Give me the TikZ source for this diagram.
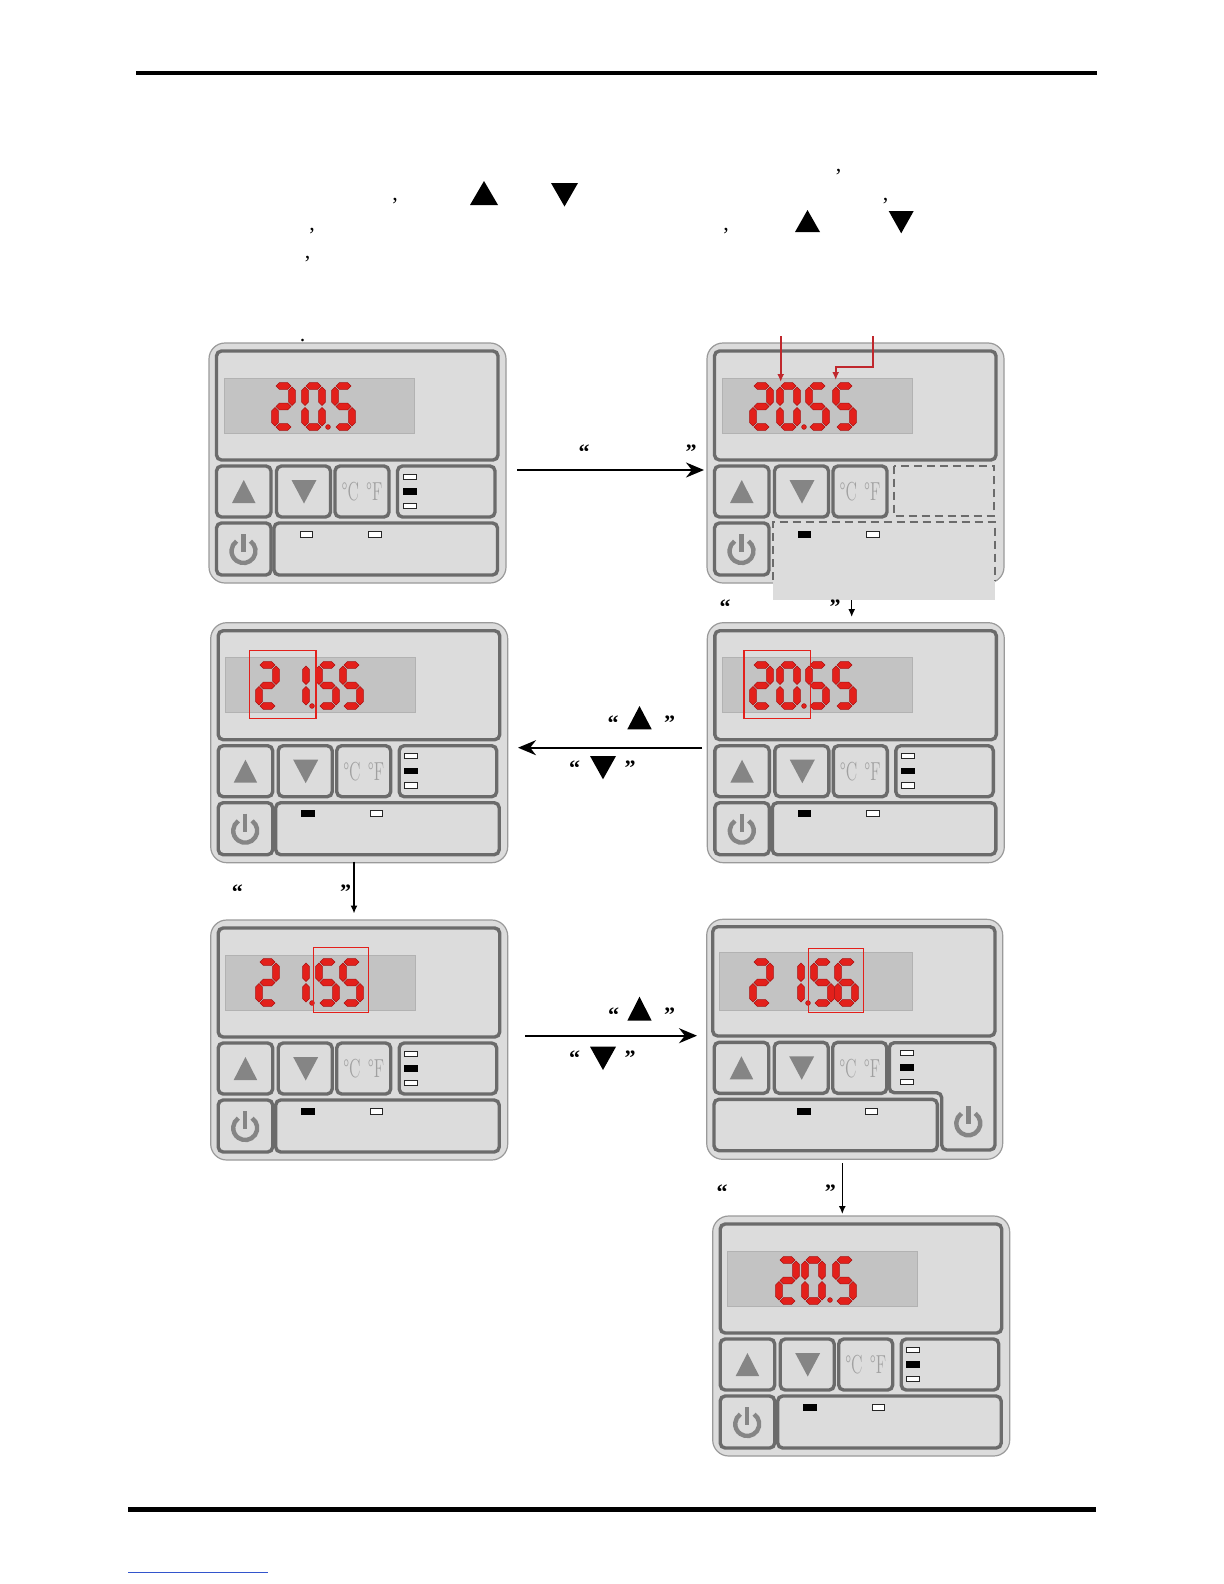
\documentclass[tikz,border=0pt]{standalone}
\usepackage{fontspec}
\usepackage{graphicx}
\newfontfamily\qfont{Liberation Serif}
\usetikzlibrary{arrows.meta}
\definecolor{panelbg}{HTML}{DCDCDC}
\definecolor{outerline}{HTML}{9A9A9A}
\definecolor{framecol}{HTML}{6B6B6B}
\definecolor{lcdbg}{HTML}{C3C3C3}
\definecolor{lcdline}{HTML}{B2B2B2}
\definecolor{iconcol}{HTML}{858585}
\definecolor{segred}{HTML}{E3201B}
\definecolor{segdark}{HTML}{A81010}
\definecolor{arrowred}{HTML}{C0282D}
\definecolor{cfgray}{HTML}{A0A0A0}
\definecolor{linkblue}{HTML}{3355CC}
\tikzset{
  outerbox/.style={draw=outerline, fill=panelbg, line width=0.6pt, rounded corners=8pt},
  frame/.style={draw=framecol, fill=panelbg, line width=1.7pt, rounded corners=2.5pt},
  lcd/.style={draw=lcdline, fill=lcdbg, line width=0.4pt},
  icon/.style={fill=iconcol},
  pwr/.style={draw=iconcol, line width=2.2pt},
  seg/.style={fill=segred, draw=segdark, line width=0.25pt},
  ledw/.style={draw=black!85, fill=white, line width=0.4pt},
  ledb/.style={draw=black, fill=black, line width=0.4pt},
  redbox/.style={draw=segred, line width=0.6pt},
  dashframe/.style={draw=framecol, line width=1pt, dash pattern=on 4pt off 2.5pt},
  bigarrow/.style={-{Stealth[length=9pt,width=7.5pt]}, line width=0.9pt},
  smallarrow/.style={-{Latex[length=4pt,width=3.5pt]}, line width=0.7pt},
  redarrow/.style={-{Latex[length=4pt,width=3.5pt]}, line width=0.8pt, draw=arrowred},
  quote/.style={font=\qfont\bfseries\fontsize{11}{11}\selectfont, inner sep=0pt, anchor=base},
  punct/.style={font=\qfont\fontsize{11}{11}\selectfont, inner sep=0pt, anchor=base},
  cf/.style={text=cfgray, inner sep=0pt, font=\fontsize{13}{13}\selectfont},
}
% seven segment pieces (local units: px, y downwards)
\newcommand\hseg[3]{\filldraw[seg] ({#1},{#3}) -- ({#1+3.3},{#3-3.3}) -- ({#2-3.3},{#3-3.3}) -- ({#2},{#3}) -- ({#2-3.3},{#3+3.3}) -- ({#1+3.3},{#3+3.3}) -- cycle;}
\newcommand\vseg[3]{\filldraw[seg] ({#1},{#2}) -- ({#1+3.3},{#2+3.3}) -- ({#1+3.3},{#3-3.3}) -- ({#1},{#3}) -- ({#1-3.3},{#3-3.3}) -- ({#1-3.3},{#2+3.3}) -- cycle;}
\newcommand\segA{\hseg{1}{16}{0}}
\newcommand\segB{\vseg{17}{1}{19.5}}
\newcommand\segC{\vseg{17}{21.5}{40}}
\newcommand\segD{\hseg{1}{16}{41}}
\newcommand\segE{\vseg{0}{21.5}{40}}
\newcommand\segF{\vseg{0}{1}{19.5}}
\newcommand\segG{\hseg{1}{16}{20.5}}
\newcommand\digit[3]{\begin{scope}[shift={({#2+3},{#3+3})}]%
\ifcase#1\relax \segA\segB\segC\segD\segE\segF
\or \segB\segC
\or \segA\segB\segG\segE\segD
\or \or \or \segA\segF\segG\segC\segD
\or \segA\segF\segG\segE\segC\segD
\fi\end{scope}}
\newcommand\segdot[2]{\filldraw[seg] (#1,#2) circle (2.4);}
% panel pieces (relative coordinates)
\newcommand\pwricon[2]{\draw[pwr] ({#1+12*cos(-55)},{#2+12*sin(-55)}) arc[start angle=-55,end angle=235,radius=12];
  \draw[pwr] (#1,{#2-17}) -- (#1,{#2+1});}
\newcommand\upbtn{\draw[frame] (7.5,123) rectangle (62,174);
  \fill[icon] (23,160) -- (46.5,160) -- (34.75,137) -- cycle;}
\newcommand\downbtn{\draw[frame] (67.5,123) rectangle (121.5,174);
  \fill[icon] (82.5,137) -- (107.5,137) -- (95,160.5) -- cycle;}
\newcommand\cfbtn{\draw[frame] (126,123) rectangle (180,174);
  \node[cf] at (153,149) {\scalebox{0.62}[1]{°C\hspace{0.45em}°F}};}
\newcommand\modeleds{\draw[ledw] (194,131) rectangle (207,136);
  \draw[ledb] (194,145.5) rectangle (207,151);
  \draw[ledw] (194,160) rectangle (207,165.5);}
\newcommand\modebox{\draw[frame] (188.5,123) rectangle (286,174); \modeleds}
\newcommand\longbox[2]{\draw[frame] (65,180) rectangle (288.5,232);
  \draw[#1] (91,188) rectangle (103.5,194); \draw[#2] (159.5,188) rectangle (172,194);}
\newcommand\panel[3]{\begin{scope}[shift={(#1,#2)}]
  \draw[outerbox] (0,0) rectangle (297,240);
  \draw[frame] (7.5,8) rectangle (289,117);
  \draw[lcd] (15,35) rectangle (205,90);
  \upbtn\downbtn\cfbtn
  \draw[frame] (7.5,180) rectangle (62,232);
  \pwricon{34.5}{208}
  #3
\end{scope}}
\begin{document}
\begin{tikzpicture}[x=0.5pt,y=-0.5pt]
\useasboundingbox (0,0) rectangle (1224,1584);
\fill[white] (0,0) rectangle (1224,1584);
% rules
\fill[black] (136,71) rectangle (1097,75);
\fill[black] (128,1507) rectangle (1096,1512);
\draw[linkblue, line width=0.5pt] (128,1572) -- (268,1572);
% header punctuation and symbols
\node[punct] (c1) at (395,200) {,};
\node[punct] (c2) at (838.7,171) {,};
\node[punct] (c3) at (885.6,200) {,};
\node[punct] (c4) at (312,230) {,};
\node[punct] (c5) at (726,230) {,};
\node[punct] (c6) at (307.5,258) {,};
\node[punct] (c7) at (302.7,341) {.};
\fill[black] (470,205) -- (498,205) -- (484,181) -- cycle;
\fill[black] (551,183) -- (578,183) -- (564.5,206.5) -- cycle;
\fill[black] (795,232) -- (820,232) -- (807.5,210) -- cycle;
\fill[black] (888.7,211) -- (913.7,211) -- (901.2,233.3) -- cycle;

% ---------- Panel 1
\panel{209}{343}{\modebox\longbox{ledw}{ledw}}
\digit{2}{272}{383}\digit{0}{302}{383}\segdot{328}{427}\digit{5}{332}{383}

% ---------- Panel 2
\panel{707}{343}{%
  \draw[dashframe] (187,122.7) rectangle (287,173);
  \fill[panelbg] (65.7,179) rectangle (288,257);
  \draw[dashframe] (65.7,237) -- (65.7,179) -- (288,179) -- (288,237);
  \draw[ledb] (91,188) rectangle (103.5,194); \draw[ledw] (159.5,188) rectangle (172,194);}
\digit{2}{750}{383}\digit{0}{777}{383}\segdot{804}{427}\digit{5}{806}{383}\digit{5}{833}{383}
\coordinate (r1s) at (780.7,336); \coordinate (r1e) at (780.7,382);
\draw[redarrow] (r1s) -- (r1e);
\coordinate (r2s) at (872.7,336); \coordinate (r2e) at (835.7,380);
\draw[redarrow] (r2s) |- (835.7,366.7) -- (r2e);

% ---------- Panel 3
\panel{210.7}{622.7}{\modebox\longbox{ledb}{ledw}}
\digit{2}{256}{662}\digit{1}{286}{662}\segdot{312}{706}\digit{5}{316}{662}\digit{5}{340}{662}
\draw[redbox] (249.3,650.7) rectangle (316,718.3);

% ---------- Panel 4
\panel{707.3}{622.7}{\modebox\longbox{ledb}{ledw}}
\digit{2}{750}{662}\digit{0}{777}{662}\segdot{804}{706}\digit{5}{806}{662}\digit{5}{833}{662}
\draw[redbox] (744,650.7) rectangle (810.7,718.3);

% ---------- Panel 5
\panel{210.7}{920}{\modebox\longbox{ledb}{ledw}}
\digit{2}{256}{959}\digit{1}{286}{959}\segdot{312}{1003}\digit{5}{316}{959}\digit{5}{340}{959}
\draw[redbox] (313.3,947.7) rectangle (368.3,1012.7);

% ---------- Panel 6 (different layout)
\begin{scope}[shift={(706.7,919.3)}]
  \draw[outerbox] (0,0) rectangle (296,240);
  \draw[frame] (6,7.4) rectangle (288.3,116.7);
  \draw[lcd] (12.6,33.4) rectangle (206,90.7);
  \upbtn\downbtn\cfbtn
  \draw[frame] (182.6,123.4) -- (288.3,123.4) -- (288.3,230.7) -- (235,230.7) -- (235,173.4) -- (182.6,173.4) -- cycle;
  \modeleds
  \draw[frame] (7.3,180) rectangle (230.6,231.4);
  \draw[ledb] (90.6,189) rectangle (103.3,194.7); \draw[ledw] (159,189) rectangle (171,194.7);
  \pwricon{261.6}{204}
\end{scope}
\digit{2}{750}{959}\digit{1}{781}{959}\segdot{808}{1003}\digit{5}{811}{959}\digit{6}{835}{959}
\draw[redbox] (808.3,948.3) rectangle (863.3,1012.7);

% ---------- Panel 7
\panel{712.7}{1216}{\modebox\longbox{ledb}{ledw}}
\digit{2}{776}{1257}\digit{0}{802}{1257}\segdot{830}{1300}\digit{5}{833}{1257}

% ---------- connectors
\coordinate (a1s) at (517,470); \coordinate (a1e) at (704,470);
\draw[bigarrow] (a1s) -- (a1e);
\node[quote] (q1l) at (584,459) {“}; \node[quote] (q1r) at (691,459) {”};

\coordinate (a2s) at (851.7,600); \coordinate (a2e) at (851.7,617);
\draw[smallarrow] (a2s) -- (a2e);
\node[quote] (q2l) at (725,614) {“}; \node[quote] (q2r) at (835,614) {”};

\coordinate (a3s) at (702,747.7); \coordinate (a3e) at (518,747.7);
\draw[bigarrow] (a3s) -- (a3e);
\node[quote] (q3l) at (613,730) {“}; \node[quote] (q3r) at (669.5,730) {”};
\fill[black] (627.3,729.3) -- (651.7,729.3) -- (639.5,706) -- cycle;
\node[quote] (q4l) at (574.7,775) {“}; \node[quote] (q4r) at (630,775) {”};
\fill[black] (590,756) -- (616,756) -- (603,779.3) -- cycle;

\coordinate (a4s) at (354,861.7); \coordinate (a4e) at (354,913.5);
\draw[smallarrow] (a4s) -- (a4e);
\node[quote] (q5l) at (237.3,899) {“}; \node[quote] (q5r) at (345.5,899) {”};

\coordinate (a5s) at (525,1035.7); \coordinate (a5e) at (697,1035.7);
\draw[bigarrow] (a5s) -- (a5e);
\node[quote] (q6l) at (613.5,1022) {“}; \node[quote] (q6r) at (669.5,1022) {”};
\fill[black] (627.3,1020.7) -- (651.7,1020.7) -- (639.5,996.7) -- cycle;
\node[quote] (q7l) at (574.5,1065.5) {“}; \node[quote] (q7r) at (630,1065.5) {”};
\fill[black] (590,1046.7) -- (616,1046.7) -- (603,1070) -- cycle;

\coordinate (a6s) at (842.3,1163.3); \coordinate (a6e) at (842.3,1214);
\draw[smallarrow] (a6s) -- (a6e);
\node[quote] (q8l) at (722,1199) {“}; \node[quote] (q8r) at (830.3,1199) {”};
\end{tikzpicture}
\end{document}
